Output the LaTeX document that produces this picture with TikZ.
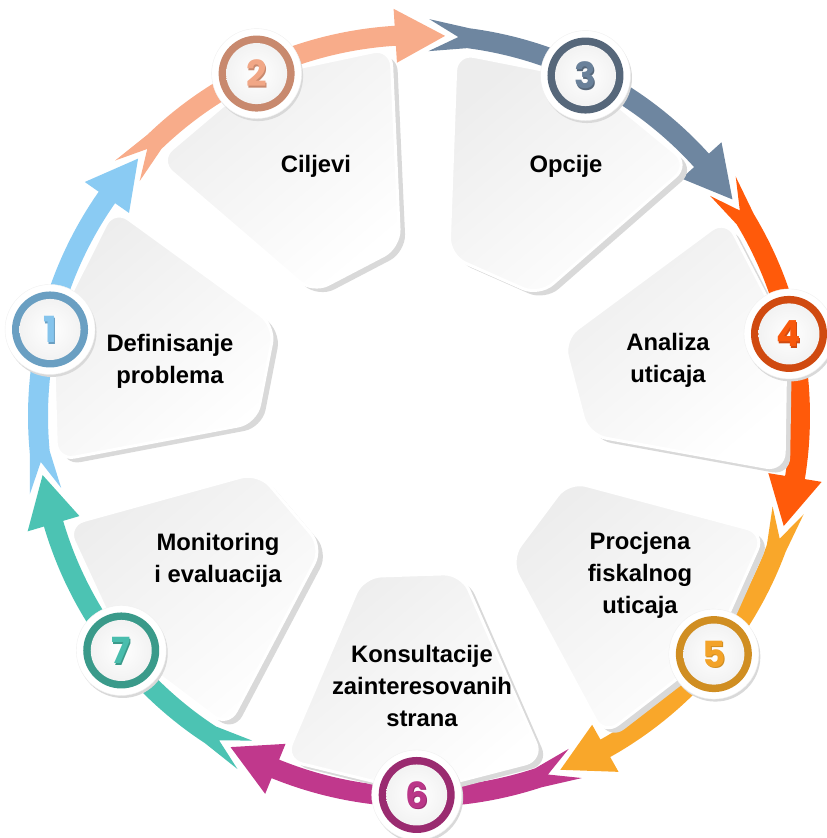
\documentclass[tikz,border=0pt]{standalone}
\usepackage{fontspec}
\usetikzlibrary{calc}
\setmainfont{Liberation Sans}
\newfontfamily\numfont{Poppins}
\definecolor{band1}{HTML}{8ACBF3}
\definecolor{band2}{HTML}{F8AC8A}
\definecolor{band3}{HTML}{6E86A0}
\definecolor{band4}{HTML}{FF5A0A}
\definecolor{band5}{HTML}{F9A72A}
\definecolor{band6}{HTML}{C0388C}
\definecolor{band7}{HTML}{4CC3B3}
\definecolor{ring1}{HTML}{6A9FC2}
\definecolor{ring2}{HTML}{C8896E}
\definecolor{ring3}{HTML}{56677A}
\definecolor{ring4}{HTML}{D04A10}
\definecolor{ring5}{HTML}{D08E22}
\definecolor{ring6}{HTML}{9A2B70}
\definecolor{ring7}{HTML}{3A9A8A}
\tikzset{
  cardshadow/.style={fill=gray!30, rounded corners=18pt},
  cardbox/.style={top color=gray!14, bottom color=white, shading angle=40,
    draw=white, line width=3pt, rounded corners=18pt},
  steptext/.style={font=\bfseries\fontsize{23.8}{32}\selectfont, align=center},
  numtext/.style={font=\numfont\bfseries\fontsize{36}{36}\selectfont}
}
\begin{document}
\begin{tikzpicture}[x=1pt,y=1pt]
  \useasboundingbox (-419,-422) rectangle (408,416);
  % ring of arrows
  \foreach \k in {1,...,7} {
    \pgfmathsetmacro{\th}{166.8-51.43*(\k-1)}
    \fill[band\k] (\th+20.13:381) -- (\th+24.57:397) -- (\th+18.6:391)
      arc[start angle=\th+18.6, end angle=\th-21.8, radius=391]
      -- (\th-21.8:408) -- (\th-29.3:381) -- (\th-21.8:354) -- (\th-21.8:371)
      arc[start angle=\th-21.8, end angle=\th+18.6, radius=371]
      -- (\th+24.57:365) -- cycle;
  }
  % cards
  \foreach \k in {1,...,7} {
    \pgfmathsetmacro{\th}{166.8-51.43*(\k-1)}
    \path[cardshadow, shift={(6,-5)}] (\th-21:369) -- (\th-18.9:170)
      -- (\th+15.5:163) -- (\th+20.2:365) -- (\th:376) -- cycle;
    \path[cardbox] (\th-21:369) -- (\th-18.9:170)
      -- (\th+15.5:163) -- (\th+20.2:365) -- (\th:376) -- cycle;
  }
  % badges
  \foreach \k in {1,...,7} {
    \pgfmathsetmacro{\th}{166.8-51.43*(\k-1)}
    \fill[gray!30] (\th:379) ++(1.5,-2.5) circle[radius=45];
    \fill[white, draw=gray!12] (\th:379) circle[radius=45];
    \fill[ring\k] (\th:379) circle[radius=38];
    \shade[inner color=white, outer color=gray!10] (\th:379) circle[radius=30.5];
    \node[numtext, text=ring\k] at ($(\th:379)+(1,-1.5)$) {\k};
    \node[numtext, text=band\k!85!ring\k] (b\k) at (\th:379) {\k};
  }
  \node[steptext] (t1) at (-249,55) {Definisanje\\problema};
  \node[steptext] (t2) at (-103,250) {Ciljevi};
  \node[steptext] (t3) at (147,250) {Opcije};
  \node[steptext] (t4) at (249,56) {Analiza\\uticaja};
  \node[steptext] (t5) at (221,-159) {Procjena\\fiskalnog\\uticaja};
  \node[steptext] (t6) at (3,-270) {Konsultacije\\zainteresovanih\\strana};
  \node[steptext] (t7) at (-201,-144) {Monitoring\\i evaluacija};
\end{tikzpicture}
\end{document}
